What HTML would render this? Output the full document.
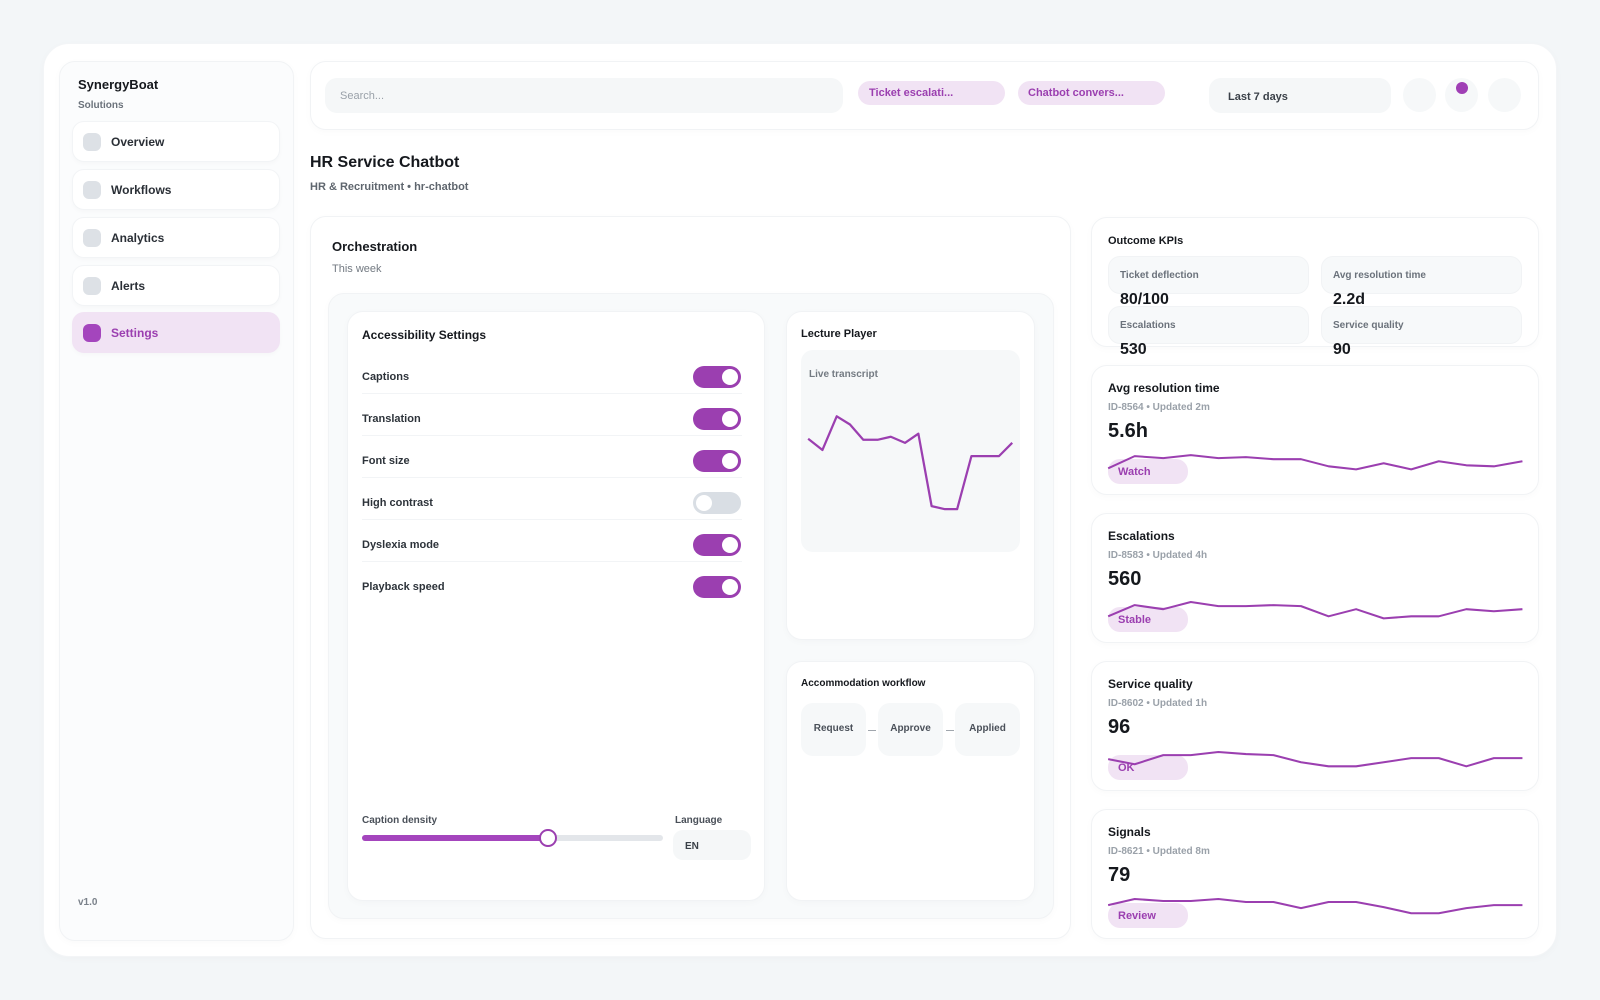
<!DOCTYPE html>
<html><head><meta charset="utf-8"><style>
*{box-sizing:border-box;margin:0;padding:0}
body{width:1600px;height:1000px;background:#f3f6f8;font-family:"Liberation Sans",sans-serif;position:relative;overflow:hidden;color:#15181d}
.a{position:absolute}
.card{position:absolute;background:#fff;border:1px solid #f1f3f5;border-radius:16px;box-shadow:0 2px 8px rgba(20,30,50,.025)}
.nav{position:absolute;left:72px;width:208px;height:41px;border-radius:12px;background:#fff;border:1px solid #f2f4f6;box-shadow:0 2px 5px rgba(0,0,0,.025);font-size:12px;font-weight:bold;color:#2a2f36}
.nav i{position:absolute;left:10px;top:11px;width:18px;height:18px;border-radius:6px;background:#dde1e6}
.nav span{position:absolute;left:38px;top:13px}
.lbl{position:absolute;font-size:11px;font-weight:bold;color:#2d333a}
.tg{position:absolute;left:693px;width:48px;height:22px;border-radius:11px;background:#9b3fb0}
.tg:after{content:"";position:absolute;right:3px;top:3px;width:16px;height:16px;border-radius:50%;background:#fff}
.tg.off{background:#d9dee4}.tg.off:after{left:3px;right:auto}
.mc .t{position:absolute;left:16px;top:15px;font-size:12px;font-weight:bold}
.mc .id{position:absolute;left:16px;top:36px;font-size:10px;color:#9aa1a9;font-weight:bold}
.mc .v{position:absolute;left:16px;top:54px;font-size:20px;font-weight:bold}
.mc .b{position:absolute;left:16px;top:93px;width:80px;height:25px;border-radius:12px;background:#f1e3f4;color:#9b3fb0;font-size:11px;font-weight:bold;padding:7px 0 0 10px}
.kt{position:absolute;width:201px;height:38px;border-radius:12px;background:#f7f9fa;border:1px solid #f1f3f5;font-size:10px;font-weight:bold;color:#6b727b;padding:13px 0 0 11px}
.kv{position:absolute;font-size:16px;font-weight:bold}
.st{position:absolute;top:703px;width:65px;height:53px;border-radius:12px;background:#f6f8f9;font-size:10px;font-weight:bold;color:#4a5059;text-align:center;padding-top:20px}
.ln{position:absolute;left:362px;width:380px;height:1px;background:#f2f4f6}
</style></head><body>
<div class="card" style="left:43px;top:43px;width:1514px;height:914px;border-radius:26px;border-color:#f3f5f7"></div>
<div class="card" style="left:59px;top:61px;width:235px;height:880px;background:#fbfcfd"></div>
<div class="a" style="left:78px;top:77px;font-size:13px;font-weight:bold">SynergyBoat</div>
<div class="a" style="left:78px;top:100px;font-size:10px;color:#6b727b;font-weight:bold">Solutions</div>
<div class="nav" style="top:121px"><i></i><span>Overview</span></div>
<div class="nav" style="top:169px"><i></i><span>Workflows</span></div>
<div class="nav" style="top:217px"><i></i><span>Analytics</span></div>
<div class="nav" style="top:265px"><i></i><span>Alerts</span></div>
<div class="nav" style="top:312px;background:#f1e3f4;border-color:#f1e3f4;color:#9b3fb0"><i style="background:#a445bd"></i><span>Settings</span></div>
<div class="a" style="left:78px;top:897px;font-size:10px;color:#7a818a;font-weight:bold">v1.0</div>

<div class="card" style="left:310px;top:61px;width:1229px;height:69px"></div>
<div class="a" style="left:325px;top:78px;width:518px;height:35px;border-radius:12px;background:#f5f7f8;font-size:11px;color:#9aa1a9;padding:12px 0 0 15px">Search...</div>
<div class="a" style="left:858px;top:81px;width:147px;height:24px;border-radius:12px;background:#f1e3f4;color:#9b3fb0;font-size:11px;font-weight:bold;padding:6px 0 0 11px">Ticket escalati...</div>
<div class="a" style="left:1018px;top:81px;width:147px;height:24px;border-radius:12px;background:#f1e3f4;color:#9b3fb0;font-size:11px;font-weight:bold;padding:6px 0 0 10px">Chatbot convers...</div>
<div class="a" style="left:1209px;top:78px;width:182px;height:35px;border-radius:12px;background:#f5f7f8;font-size:11px;font-weight:bold;color:#3a4048;padding:13px 0 0 19px">Last 7 days</div>
<div class="a" style="left:1403px;top:78px;width:33px;height:34px;border-radius:50%;background:#f6f8f9"></div>
<div class="a" style="left:1445px;top:78px;width:33px;height:34px;border-radius:50%;background:#f6f8f9"></div>
<div class="a" style="left:1488px;top:78px;width:33px;height:34px;border-radius:50%;background:#f6f8f9"></div>
<div class="a" style="left:1456px;top:82px;width:12px;height:12px;border-radius:50%;background:#a03fb5"></div>

<div class="a" style="left:310px;top:154px;font-size:16px;font-weight:bold">HR Service Chatbot</div>
<div class="a" style="left:310px;top:181px;font-size:11px;color:#5f666e;font-weight:bold">HR &amp; Recruitment • hr-chatbot</div>

<div class="card" style="left:310px;top:216px;width:761px;height:723px"></div>
<div class="a" style="left:332px;top:239px;font-size:13px;font-weight:bold">Orchestration</div>
<div class="a" style="left:332px;top:263px;font-size:11px;color:#737a82">This week</div>
<div class="card" style="left:328px;top:293px;width:726px;height:626px;background:#f8fafb"></div>
<div class="card" style="left:347px;top:311px;width:418px;height:590px"></div>
<div class="a" style="left:362px;top:328px;font-size:12px;font-weight:bold">Accessibility Settings</div>
<div class="ln" style="top:393px"></div><div class="ln" style="top:435px"></div><div class="ln" style="top:477px"></div><div class="ln" style="top:519px"></div><div class="ln" style="top:561px"></div>
<div class="lbl" style="left:362px;top:371px">Captions</div><div class="tg" style="top:366px"></div>
<div class="lbl" style="left:362px;top:413px">Translation</div><div class="tg" style="top:408px"></div>
<div class="lbl" style="left:362px;top:455px">Font size</div><div class="tg" style="top:450px"></div>
<div class="lbl" style="left:362px;top:497px">High contrast</div><div class="tg off" style="top:492px"></div>
<div class="lbl" style="left:362px;top:539px">Dyslexia mode</div><div class="tg" style="top:534px"></div>
<div class="lbl" style="left:362px;top:581px">Playback speed</div><div class="tg" style="top:576px"></div>
<div class="a" style="left:362px;top:815px;font-size:10px;font-weight:bold;color:#4a5059">Caption density</div>
<div class="a" style="left:362px;top:835px;width:301px;height:6px;border-radius:3px;background:#e3e6ea"></div>
<div class="a" style="left:362px;top:835px;width:186px;height:6px;border-radius:3px;background:#a445bd"></div>
<div class="a" style="left:539px;top:829px;width:18px;height:18px;border-radius:50%;background:#fff;border:2px solid #9b3fb0"></div>
<div class="a" style="left:675px;top:815px;font-size:10px;font-weight:bold;color:#4a5059">Language</div>
<div class="a" style="left:673px;top:830px;width:78px;height:30px;border-radius:10px;background:#f5f7f8;font-size:10px;font-weight:bold;color:#3a4048;padding:11px 0 0 12px">EN</div>

<div class="card" style="left:786px;top:311px;width:249px;height:329px"></div>
<div class="a" style="left:801px;top:328px;font-size:11px;font-weight:bold">Lecture Player</div>
<div class="a" style="left:801px;top:350px;width:219px;height:202px;border-radius:12px;background:#f6f8f9"></div>
<div class="a" style="left:809px;top:369px;font-size:10px;font-weight:bold;color:#737a82">Live transcript</div>
<div class="card" style="left:786px;top:661px;width:249px;height:240px"></div>
<div class="a" style="left:801px;top:678px;font-size:10px;font-weight:bold">Accommodation workflow</div>
<div class="st" style="left:801px">Request</div>
<div class="st" style="left:878px">Approve</div>
<div class="st" style="left:955px">Applied</div>
<div class="a" style="left:868px;top:730px;width:8px;height:1px;background:#a0a6ad"></div>
<div class="a" style="left:946px;top:730px;width:8px;height:1px;background:#a0a6ad"></div>

<div class="card" style="left:1091px;top:217px;width:448px;height:130px"></div>
<div class="a" style="left:1108px;top:235px;font-size:11px;font-weight:bold">Outcome KPIs</div>
<div class="kt" style="left:1108px;top:256px">Ticket deflection</div>
<div class="kt" style="left:1321px;top:256px">Avg resolution time</div>
<div class="kt" style="left:1108px;top:306px">Escalations</div>
<div class="kt" style="left:1321px;top:306px">Service quality</div>
<div class="kv" style="left:1120px;top:291px">80/100</div>
<div class="kv" style="left:1333px;top:291px">2.2d</div>
<div class="kv" style="left:1120px;top:341px">530</div>
<div class="kv" style="left:1333px;top:341px">90</div>

<div class="card mc" style="left:1091px;top:365px;width:448px;height:130px"><div class="t">Avg resolution time</div><div class="id">ID-8564 • Updated 2m</div><div class="v">5.6h</div><div class="b">Watch</div></div>
<div class="card mc" style="left:1091px;top:513px;width:448px;height:130px"><div class="t">Escalations</div><div class="id">ID-8583 • Updated 4h</div><div class="v">560</div><div class="b">Stable</div></div>
<div class="card mc" style="left:1091px;top:661px;width:448px;height:130px"><div class="t">Service quality</div><div class="id">ID-8602 • Updated 1h</div><div class="v">96</div><div class="b">OK</div></div>
<div class="card mc" style="left:1091px;top:809px;width:448px;height:130px"><div class="t">Signals</div><div class="id">ID-8621 • Updated 8m</div><div class="v">79</div><div class="b">Review</div></div>

<svg class="a" style="left:0;top:0" width="1600" height="1000"><g transform="scale(1.0204)" fill="none" stroke="#9b3fb0" stroke-width="2" stroke-linejoin="round">
<polyline points="792,430 806,441 820,408 833,416 846,431 860,431 873,428 887,434 900,425 913,496 926,499 938,499 952,447 965,447 979,447 992,434" stroke-width="2.2"/>
<polyline points="1086,459 1112,447 1140,449 1167,446 1194,449 1221,448 1248,450 1275,450 1302,457 1329,460 1356,454 1383,460 1410,452 1437,456 1464,457 1492,452"/>
<polyline points="1086,604 1112,593 1140,597 1167,590 1194,594 1221,594 1248,593 1275,594 1302,604 1329,597 1356,606 1383,604 1410,604 1437,597 1464,599 1492,597"/>
<polyline points="1086,744 1112,749 1140,740 1167,740 1194,737 1221,739 1248,740 1275,747 1302,751 1329,751 1356,747 1383,743 1410,743 1437,751 1464,743 1492,743"/>
<polyline points="1086,887 1112,881 1140,883 1167,883 1194,881 1221,884 1248,884 1275,890 1302,884 1329,884 1356,889 1383,895 1410,895 1437,890 1464,887 1492,887"/>
</g></svg>
</body></html>
